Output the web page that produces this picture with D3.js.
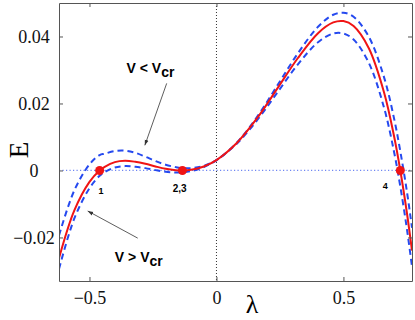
<!DOCTYPE html>
<html>
<head>
<meta charset="utf-8">
<script src="https://cdn.jsdelivr.net/npm/d3@7"></script>
<style>
  body { margin: 0; background: #fff; }
  .note { font-family: "Liberation Sans", Arial, sans-serif; font-weight: bold; fill: #000; }
</style>
</head>
<body>
<div id="chart"></div>
<script>
// lambda samples
const lambdaVals = [-0.62, -0.56, -0.5, -0.46, -0.44, -0.4, -0.36, -0.32, -0.28, -0.24, -0.2, -0.16, -0.134,
  -0.1, -0.05, 0, 0.08, 0.16, 0.24, 0.32, 0.4, 0.46, 0.5, 0.54, 0.6, 0.66, 0.7, 0.724, 0.75, 0.77];
// red solid: v = v_cr
const eCritical = [-0.0262, -0.0120, -0.0034, 0, 0.0011, 0.0025, 0.0029, 0.0026, 0.0020, 0.0012, 0.0005, 0.0001, 0,
  0.0002, 0.0012, 0.0031, 0.0082, 0.0156, 0.0245, 0.0335, 0.0410, 0.0442, 0.0446, 0.0431, 0.0365, 0.0233, 0.0100, 0, -0.0127, -0.0239];
// blue dashed, upper: v < v_cr
const eBelowCr = [-0.0194, -0.0060, 0.0018, 0.0046, 0.0050, 0.0058, 0.0059, 0.0053, 0.0041, 0.0028, 0.0017, 0.0010, 0.0007,
  0.0007, 0.0014, 0.0031, 0.0083, 0.0160, 0.0254, 0.0349, 0.0429, 0.0465, 0.0471, 0.0459, 0.0399, 0.0278, 0.0153, 0.0057, -0.0063, -0.0171];
// blue dashed, lower: v > v_cr
const eAboveCr = [-0.0294, -0.0144, -0.0053, -0.0016, -0.0005, 0.0009, 0.0013, 0.0011, 0.0007, 0.0001, -0.0004, -0.0006, -0.0006,
  -0.0002, 0.0010, 0.0031, 0.0080, 0.0150, 0.0233, 0.0316, 0.0383, 0.0409, 0.0409, 0.0391, 0.0321, 0.0187, 0.0053, -0.0048, -0.0175, -0.0287];

const rootLambdas = [-0.46, -0.134, 0.724];
const rootLabels = ['1', '2,3', '4'];

const xTicks = [-0.5, 0, 0.5];
const yTicks = [-0.02, 0, 0.02, 0.04];

const serif = '"Liberation Serif", "Times New Roman", serif';

const margin = {top: 3, right: 3, bottom: 39, left: 59};
const width = 415 - margin.left - margin.right;
const height = 320 - margin.top - margin.bottom;

const svg = d3.select('#chart').append('svg')
    .attr('width', 415)
    .attr('height', 320);

const chart = svg.append('g')
    .attr('transform', `translate(${margin.left},${margin.top})`);

const x = d3.scaleLinear().domain([-0.62, 0.77]).range([0, width]);
const y = d3.scaleLinear().domain([-0.033, 0.05]).range([height, 0]);

svg.append('defs').append('clipPath').attr('id', 'clip')
  .append('rect').attr('width', width).attr('height', height);

// zero lines
chart.append('line')
    .attr('x1', 0).attr('x2', width)
    .attr('y1', y(0)).attr('y2', y(0))
    .attr('stroke', '#6f86f2').attr('stroke-width', 1.2)
    .attr('stroke-dasharray', '1.2,2.3');

chart.append('line')
    .attr('x1', x(0)).attr('x2', x(0))
    .attr('y1', 0).attr('y2', height)
    .attr('stroke', '#333').attr('stroke-width', 1)
    .attr('stroke-dasharray', '1,2');

// curves
const line = d3.line()
    .x((d, i) => x(lambdaVals[i]))
    .y(d => y(d))
    .curve(d3.curveCatmullRom.alpha(0.5));

const curves = chart.append('g').attr('clip-path', 'url(#clip)');

[eBelowCr, eAboveCr].forEach(series => {
  curves.append('path')
      .attr('d', line(series))
      .attr('fill', 'none')
      .attr('stroke', '#2549ef')
      .attr('stroke-width', 2)
      .attr('stroke-dasharray', '6,4');
});

curves.append('path')
    .attr('d', line(eCritical))
    .attr('fill', 'none')
    .attr('stroke', '#f01414')
    .attr('stroke-width', 2);

chart.selectAll('.root')
    .data(rootLambdas)
  .join('circle')
    .attr('class', 'root')
    .attr('cx', d => x(d))
    .attr('cy', y(0))
    .attr('r', 4.5)
    .attr('fill', '#f01414');

// root labels
const labelE = [-0.0071, -0.0065, -0.0056];
const labelL = [-0.455, -0.145, 0.665];
chart.selectAll('.root-label')
    .data(rootLabels)
  .join('text')
    .attr('class', 'note root-label')
    .attr('x', (d, i) => x(labelL[i]))
    .attr('y', (d, i) => y(labelE[i]))
    .attr('text-anchor', 'middle')
    .attr('font-size', (d, i) => i === 1 ? 10 : 9)
    .text(d => d);

// axes, ticks pointing inward, mirrored on top/right
const fmt = d3.format('~g');
const xAxis = chart.append('g')
    .attr('transform', `translate(0,${height})`)
    .call(d3.axisBottom(x).tickValues(xTicks).tickSize(-4).tickSizeOuter(0).tickPadding(10).tickFormat(fmt));
const yAxis = chart.append('g')
    .call(d3.axisLeft(y).tickValues(yTicks).tickSize(-4).tickSizeOuter(0).tickFormat(fmt));
yAxis.selectAll('text').attr('text-anchor', 'middle').attr('x', -25);

[xAxis, yAxis].forEach(ax => {
  ax.attr('font-family', serif).attr('font-size', 18);
  ax.selectAll('text').style('font-family', serif).style('font-size', '18px').attr('fill', '#111');
});

chart.append('g')
    .call(d3.axisTop(x).tickValues(xTicks).tickSize(-4).tickSizeOuter(0).tickFormat(''));
chart.append('g')
    .attr('transform', `translate(${width},0)`)
    .call(d3.axisRight(y).tickValues(yTicks).tickSize(-4).tickSizeOuter(0).tickFormat(''));

chart.selectAll('.domain').attr('stroke', '#555');
chart.selectAll('.tick line').attr('stroke', '#555');

// axis titles
svg.append('text')
    .attr('transform', `translate(${margin.left + x(0.14)},313)`)
    .attr('text-anchor', 'middle')
    .style('font-family', serif)
    .style('font-size', '26px')
    .text('λ');

svg.append('text')
    .attr('transform', `translate(28,150) rotate(-90)`)
    .attr('text-anchor', 'middle')
    .style('font-family', serif)
    .style('font-size', '27px')
    .text('E');

// annotations
svg.select('defs').append('marker')
    .attr('id', 'head')
    .attr('viewBox', '0 0 10 10')
    .attr('refX', 10).attr('refY', 5)
    .attr('markerWidth', 7).attr('markerHeight', 7)
    .attr('orient', 'auto')
  .append('path')
    .attr('d', 'M0,1.5L10,5L0,8.5z')
    .attr('fill', '#333');

function note(lx, ly, main) {
  const t = chart.append('text')
      .attr('class', 'note')
      .attr('x', x(lx)).attr('y', y(ly))
      .attr('font-size', 14);
  t.append('tspan').text(main);
  t.append('tspan').attr('dy', 4).text('cr');
}
note(-0.354, 0.0291, 'V < V');
note(-0.40, -0.0272, 'V > V');

function pointer(l1, e1, l2, e2) {
  chart.append('line')
      .attr('x1', x(l1)).attr('y1', y(e1))
      .attr('x2', x(l2)).attr('y2', y(e2))
      .attr('stroke', '#333').attr('stroke-width', 0.8)
      .attr('marker-end', 'url(#head)');
}
pointer(-0.196, 0.026, -0.282, 0.0075);
pointer(-0.31, -0.0202, -0.507, -0.0121);
</script>
</body>
</html>
